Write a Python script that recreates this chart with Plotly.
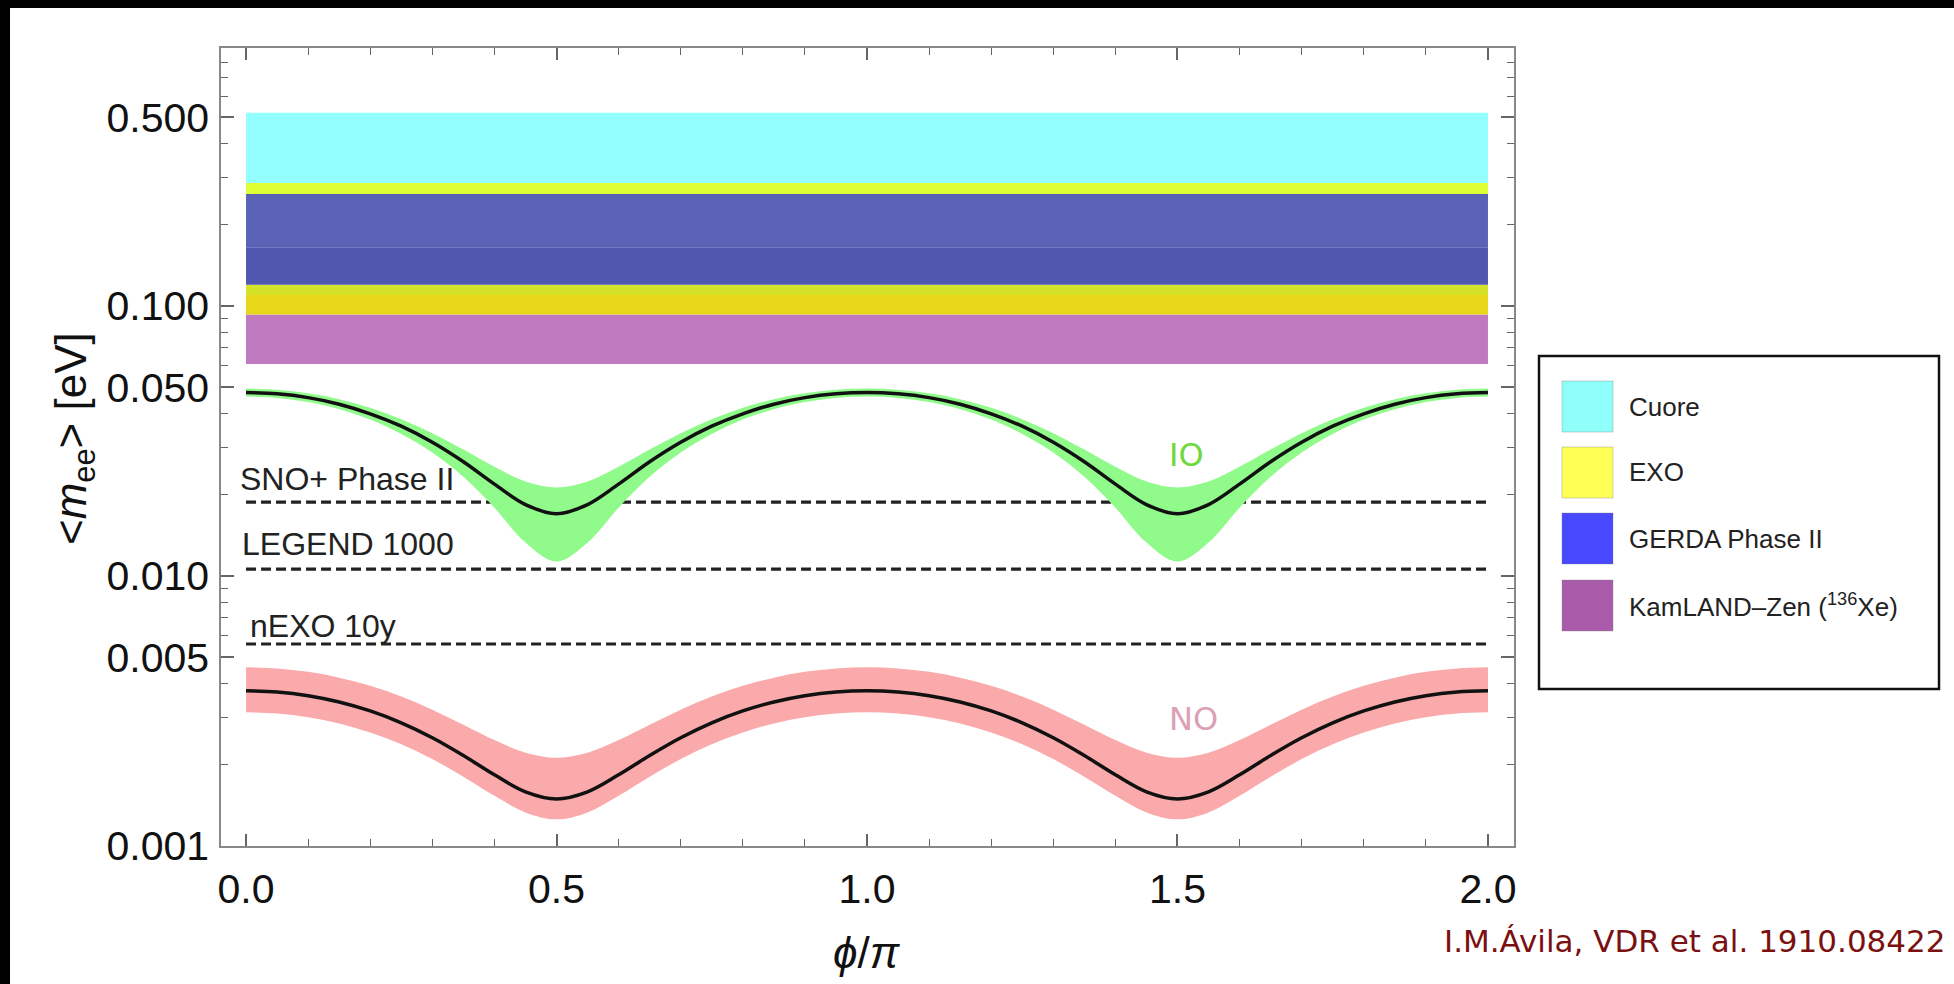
import math
import plotly.graph_objects as go

# ---------------- data ----------------
phi = [0.0, 0.05, 0.1, 0.15, 0.2, 0.25, 0.3, 0.35, 0.4, 0.45, 0.5, 0.55, 0.6, 0.65, 0.7, 0.75, 0.8, 0.85, 0.9, 0.95, 1.0,
       1.05, 1.1, 1.15, 1.2, 1.25, 1.3, 1.35, 1.4, 1.45, 1.5, 1.55, 1.6, 1.65, 1.7, 1.75, 1.8, 1.85, 1.9, 1.95, 2.0]

io_central = [0.0478, 0.0473, 0.0458, 0.0433, 0.0399, 0.0359, 0.0313, 0.0265, 0.0219, 0.0184, 0.0170,
              0.0184, 0.0219, 0.0265, 0.0313, 0.0359, 0.0399, 0.0433, 0.0458, 0.0473, 0.0478,
              0.0473, 0.0458, 0.0433, 0.0399, 0.0359, 0.0313, 0.0265, 0.0219, 0.0184, 0.0170,
              0.0184, 0.0219, 0.0265, 0.0313, 0.0359, 0.0399, 0.0433, 0.0458, 0.0473, 0.0478]
io_upper = [0.0495, 0.0490, 0.0475, 0.0452, 0.0420, 0.0381, 0.0338, 0.0294, 0.0254, 0.0224, 0.0213,
            0.0224, 0.0254, 0.0294, 0.0338, 0.0381, 0.0420, 0.0452, 0.0475, 0.0490, 0.0495,
            0.0490, 0.0475, 0.0452, 0.0420, 0.0381, 0.0338, 0.0294, 0.0254, 0.0224, 0.0213,
            0.0224, 0.0254, 0.0294, 0.0338, 0.0381, 0.0420, 0.0452, 0.0475, 0.0490, 0.0495]
io_lower = [0.0462, 0.0457, 0.0441, 0.0415, 0.0380, 0.0336, 0.0287, 0.0233, 0.0179, 0.0133, 0.0113,
            0.0133, 0.0179, 0.0233, 0.0287, 0.0336, 0.0380, 0.0415, 0.0441, 0.0457, 0.0462,
            0.0457, 0.0441, 0.0415, 0.0380, 0.0336, 0.0287, 0.0233, 0.0179, 0.0133, 0.0113,
            0.0133, 0.0179, 0.0233, 0.0287, 0.0336, 0.0380, 0.0415, 0.0441, 0.0457, 0.0462]

no_central = [0.003759, 0.003720, 0.003605, 0.003417, 0.003165, 0.002860, 0.002518, 0.002164, 0.001835, 0.001587, 0.001493,
              0.001587, 0.001835, 0.002164, 0.002518, 0.002860, 0.003165, 0.003417, 0.003605, 0.003720, 0.003759,
              0.003720, 0.003605, 0.003417, 0.003165, 0.002860, 0.002518, 0.002164, 0.001835, 0.001587, 0.001493,
              0.001587, 0.001835, 0.002164, 0.002518, 0.002860, 0.003165, 0.003417, 0.003605, 0.003720, 0.003759]
no_upper = [0.004593, 0.004549, 0.004417, 0.004204, 0.003920, 0.003578, 0.003200, 0.002815, 0.002468, 0.002217, 0.002123,
            0.002217, 0.002468, 0.002815, 0.003200, 0.003578, 0.003920, 0.004204, 0.004417, 0.004549, 0.004593,
            0.004549, 0.004417, 0.004204, 0.003920, 0.003578, 0.003200, 0.002815, 0.002468, 0.002217, 0.002123,
            0.002217, 0.002468, 0.002815, 0.003200, 0.003578, 0.003920, 0.004204, 0.004417, 0.004549, 0.004593]
no_lower = [0.003126, 0.003094, 0.002998, 0.002843, 0.002634, 0.002382, 0.002099, 0.001807, 0.001536, 0.001332, 0.001255,
            0.001332, 0.001536, 0.001807, 0.002099, 0.002382, 0.002634, 0.002843, 0.002998, 0.003094, 0.003126,
            0.003094, 0.002998, 0.002843, 0.002634, 0.002382, 0.002099, 0.001807, 0.001536, 0.001332, 0.001255,
            0.001332, 0.001536, 0.001807, 0.002099, 0.002382, 0.002634, 0.002843, 0.002998, 0.003094, 0.003126]

exp_names = ["Cuore", "EXO", "GERDA Phase II", "KamLAND–Zen (<sup>136</sup>Xe)"]
exp_lower = [0.110, 0.093, 0.120, 0.061]
exp_upper = [0.520, 0.286, 0.260, 0.165]

future_names = ["SNO+ Phase II", "LEGEND 1000", "nEXO 10y"]
future_sens = [0.0188, 0.0106, 0.0056]

y_tickvals = [0.001, 0.005, 0.01, 0.05, 0.1, 0.5]
y_ticktext = ["0.001", "0.005", "0.010", "0.050", "0.100", "0.500"]
y_minor = [0.002, 0.003, 0.004, 0.006, 0.007, 0.008, 0.009, 0.02, 0.03, 0.04, 0.06, 0.07, 0.08, 0.09,
           0.2, 0.3, 0.4, 0.6, 0.7, 0.8]
x_tickvals = [0.0, 0.5, 1.0, 1.5, 2.0]
x_ticktext = ["0.0", "0.5", "1.0", "1.5", "2.0"]

# ---------------- styles ----------------
legend_colors = ["#8ffff9", "#ffff55", "#4848ff", "#aa5caa"]
overlap_colors = {
    (0,): "#94ffff",
    (0, 1): "#deff33",
    (0, 1, 2): "#5a62b6",
    (0, 1, 2, 3): "#5157af",
    (0, 1, 3): "#d4e228",
    (1, 3): "#e8d618",
    (3,): "#bf7abf",
}
label_shift = [23, 25, 18]
label_x = [-0.013, -0.010, 0.003]

W, H = 1954, 984
L, R, T, B = 221, 1514, 48, 846


def px(x):
    return (x - L) / (R - L)


def py(y):
    return (B - y) / (B - T)


fig = go.Figure()

# experimental bounds (overlapping bands)
bounds = sorted(set(exp_lower + exp_upper))
for lo, hi in zip(bounds[:-1], bounds[1:]):
    mid = math.sqrt(lo * hi)
    cover = tuple(i for i, (a, b) in enumerate(zip(exp_lower, exp_upper)) if a < mid < b)
    if not cover:
        continue
    fig.add_trace(go.Scatter(x=[phi[0], phi[-1], phi[-1], phi[0], phi[0]], y=[lo, lo, hi, hi, lo],
                             mode="lines", fill="toself", fillcolor=overlap_colors[cover],
                             line=dict(width=0), hoverinfo="skip", showlegend=False))

# future sensitivities
for name, v, sh, lx in zip(future_names, future_sens, label_shift, label_x):
    fig.add_trace(go.Scatter(x=[phi[0], phi[-1]], y=[v, v], mode="lines",
                             line=dict(color="#222222", width=3.2, dash="10px,5px"),
                             hoverinfo="skip", showlegend=False))
    fig.add_annotation(x=lx, y=math.log10(v), xref="x", yref="y", text=name, showarrow=False,
                       xanchor="left", yanchor="middle", yshift=sh,
                       font=dict(family="Liberation Sans, Arial, sans-serif", size=32, color="#222222"))

# IO band
fig.add_trace(go.Scatter(x=phi, y=io_lower, mode="lines", line=dict(width=0, shape="spline"),
                         hoverinfo="skip", showlegend=False))
fig.add_trace(go.Scatter(x=phi, y=io_upper, mode="lines", line=dict(width=0, shape="spline"),
                         fill="tonexty", fillcolor="#90fa8a", hoverinfo="skip", showlegend=False))
fig.add_trace(go.Scatter(x=phi, y=io_central, mode="lines", line=dict(color="#111111", width=3.5, shape="spline"),
                         hoverinfo="skip", showlegend=False))
# NO band
fig.add_trace(go.Scatter(x=phi, y=no_lower, mode="lines", line=dict(width=0, shape="spline"),
                         hoverinfo="skip", showlegend=False))
fig.add_trace(go.Scatter(x=phi, y=no_upper, mode="lines", line=dict(width=0, shape="spline"),
                         fill="tonexty", fillcolor="#faaaaa", hoverinfo="skip", showlegend=False))
fig.add_trace(go.Scatter(x=phi, y=no_central, mode="lines", line=dict(color="#111111", width=3.5, shape="spline"),
                         hoverinfo="skip", showlegend=False))

fig.add_annotation(x=1.514, y=-1.552, xref="x", yref="y", text="IO", showarrow=False,
                   font=dict(family="DejaVu Sans", size=32, color="#6ed83c"))
fig.add_annotation(x=1.526, y=-2.53, xref="x", yref="y", text="NO", showarrow=False,
                   font=dict(family="DejaVu Sans", size=32, color="#dca0b4"))

# axis titles
fig.add_annotation(x=px(74), y=py(439), xref="paper", yref="paper", textangle=-90,
                   text="&lt;<i>m</i><sub>ee</sub>&gt; [eV]", showarrow=False,
                   xanchor="center", yanchor="middle",
                   font=dict(family="Liberation Sans, Arial, sans-serif", size=44, color="#111111"))
fig.add_annotation(x=px(867), y=py(953), xref="paper", yref="paper",
                   text="<i>ϕ</i>/<i>π</i>", showarrow=False, xanchor="center", yanchor="middle",
                   font=dict(family="Liberation Sans, Arial, sans-serif", size=44, color="#111111"))

# citation
fig.add_annotation(x=px(1948), y=py(941), xref="paper", yref="paper",
                   text="I.M.Ávila, VDR et al. 1910.08422", showarrow=False,
                   xanchor="right", yanchor="middle",
                   font=dict(family="DejaVu Sans", size=31, color="#7a1010"))

# legend box (manual)
shapes = []
shapes.append(dict(type="rect", xref="paper", yref="paper", x0=px(1539), x1=px(1939), y0=py(689), y1=py(356),
                   line=dict(color="#111111", width=2.5), fillcolor="white", layer="above"))
sw_top = [381, 447, 513, 580]
for name, col, top in zip(exp_names, legend_colors, sw_top):
    shapes.append(dict(type="rect", xref="paper", yref="paper", x0=px(1562), x1=px(1613), y0=py(top + 51), y1=py(top),
                       line=dict(color="rgba(120,120,120,0.35)", width=1), fillcolor=col, layer="above"))
    fig.add_annotation(x=px(1627), y=py(top + 25.5), xref="paper", yref="paper", text=name, showarrow=False,
                       xanchor="left", yanchor="middle",
                       font=dict(family="Liberation Sans, Arial, sans-serif", size=26, color="#222222"))

# black slide edges
shapes.append(dict(type="rect", xref="paper", yref="paper", x0=px(-5), x1=px(10), y0=py(990), y1=py(-5),
                   line=dict(width=0), fillcolor="black", layer="above"))
shapes.append(dict(type="rect", xref="paper", yref="paper", x0=px(-5), x1=px(1960), y0=py(8), y1=py(-5),
                   line=dict(width=0), fillcolor="black", layer="above"))

tick_font = dict(family="Liberation Sans, Arial, sans-serif", size=41, color="#111111")
fig.update_layout(
    width=W, height=H,
    margin=dict(l=L, r=W - R, t=T, b=H - B, pad=0),
    paper_bgcolor="white", plot_bgcolor="white",
    showlegend=False,
    shapes=shapes,
    xaxis=dict(range=[-0.0403, 2.0419], tickvals=x_tickvals, ticktext=x_ticktext, ticks="inside",
               ticklen=12, tickwidth=1.5, tickcolor="#666666", showline=True, linecolor="#888888",
               linewidth=1.5, mirror="ticks", showgrid=False, zeroline=False, tickfont=tick_font,
               ticklabelstandoff=6,
               minor=dict(dtick=0.1, tick0=0, ticks="inside", ticklen=7, tickwidth=1.2, tickcolor="#666666",
                          showgrid=False)),
    yaxis=dict(type="log", range=[-3, -0.044], tickvals=y_tickvals, ticktext=y_ticktext, ticks="inside",
               ticklen=13, tickwidth=1.5, tickcolor="#666666", showline=True, linecolor="#888888",
               linewidth=1.5, mirror="ticks", showgrid=False, zeroline=False, tickfont=tick_font,
               ticklabelstandoff=2,
               minor=dict(tickvals=y_minor, ticks="inside", ticklen=7, tickwidth=1.2, tickcolor="#666666",
                          showgrid=False)),
)

fig.write_html("out.html", config={"displayModeBar": False},
               post_script="document.body.style.margin='0px';document.body.style.overflow='hidden';")
